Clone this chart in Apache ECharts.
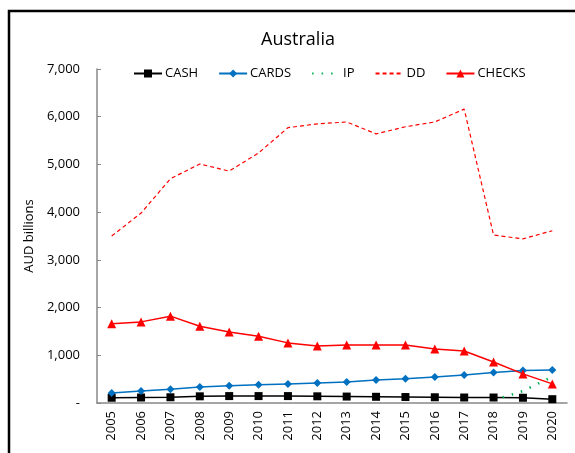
<!DOCTYPE html>
<html>
<head>
<meta charset="utf-8">
<script src="https://cdn.jsdelivr.net/npm/echarts@6/dist/echarts.min.js"></script>
<style>
  html,body{margin:0;padding:0;background:#fff;}
  #main{width:575px;height:453px;}
</style>
</head>
<body>
<div id="main"></div>
<script>
// years on the x axis
var years = ['2005','2006','2007','2008','2009','2010','2011','2012','2013','2014','2015','2016','2017','2018','2019','2020'];
// AUD billions
var cash   = [110,115,120,140,145,145,145,140,135,130,125,120,115,115,110,80];
var cards  = [210,250,290,335,360,380,400,420,440,480,510,545,585,640,680,690];
var ip     = [null,null,null,null,null,null,null,null,null,null,null,null,null,60,250,550];
var dd     = [3500,3980,4700,5010,4860,5240,5770,5850,5890,5640,5790,5890,6160,3520,3440,3610];
var checks = [1660,1700,1820,1610,1490,1400,1260,1195,1215,1215,1215,1130,1090,860,610,400];

var myChart = echarts.init(document.getElementById('main'));
var font = 'Open Sans';

var option = {
  animation: false,
  textStyle: { fontFamily: font },
  graphic: [{
    type: 'rect',
    shape: { x: 9, y: 11, width: 600, height: 500 },
    style: { fill: 'none', stroke: '#000', lineWidth: 2.5 },
    silent: true
  }],
  title: {
    text: 'Australia',
    left: 293, top: 26, textAlign: 'center',
    textStyle: { fontFamily: font, fontSize: 18, fontWeight: 'normal', color: '#000' }
  },
  legend: {
    left: 128, top: 62,
    itemWidth: 28, itemHeight: 10, itemGap: 20,
    textStyle: { fontFamily: font, fontSize: 13, color: '#000', padding: [0, 0, 0, -2] },
    data: [
      { name: 'CASH' },
      { name: 'CARDS' },
      { name: 'IP', itemStyle: { opacity: 0 } },
      { name: 'DD', itemStyle: { opacity: 0 } },
      { name: 'CHECKS' }
    ]
  },
  grid: { left: 97, right: 8, top: 69, bottom: 50 },
  xAxis: {
    type: 'category',
    data: years,
    boundaryGap: true,
    axisLine: { lineStyle: { color: '#888', width: 1.5 } },
    axisTick: { show: false },
    axisLabel: { rotate: 90, color: '#000', fontSize: 13, margin: 8, fontFamily: font }
  },
  yAxis: {
    type: 'value',
    min: 0, max: 7000, interval: 1000,
    name: 'AUD billions',
    nameLocation: 'middle',
    nameGap: 60,
    nameTextStyle: { color: '#000', fontSize: 13, fontFamily: font },
    splitLine: { show: false },
    axisLine: { show: true, lineStyle: { color: '#888', width: 1.5 } },
    axisTick: { show: true, inside: true, length: 4, lineStyle: { color: '#888' } },
    axisLabel: {
      color: '#000', fontSize: 13, margin: 17, fontFamily: font,
      formatter: function (v) { return v === 0 ? '-' : v.toLocaleString('en-US'); }
    }
  },
  series: [
    {
      name: 'CASH', type: 'line', data: cash,
      symbol: 'rect', symbolSize: 8,
      itemStyle: { color: '#000' },
      lineStyle: { color: '#000', width: 1.5 }
    },
    {
      name: 'CARDS', type: 'line', data: cards,
      symbol: 'diamond', symbolSize: 8,
      itemStyle: { color: '#0070C0' },
      lineStyle: { color: '#0070C0', width: 1.5 }
    },
    {
      name: 'IP', type: 'line', data: ip,
      symbol: 'none',
      itemStyle: { color: '#00B050' },
      lineStyle: { color: '#00B050', width: 2.5, type: [1.5, 8] }
    },
    {
      name: 'DD', type: 'line', data: dd,
      symbol: 'none',
      itemStyle: { color: '#FF0000' },
      lineStyle: { color: '#FF0000', width: 1.2, type: [4, 3] }
    },
    {
      name: 'CHECKS', type: 'line', data: checks,
      symbol: 'triangle', symbolSize: 9,
      itemStyle: { color: '#FF0000' },
      lineStyle: { color: '#FF0000', width: 1.5 }
    }
  ]
};

myChart.setOption(option);
</script>
</body>
</html>
